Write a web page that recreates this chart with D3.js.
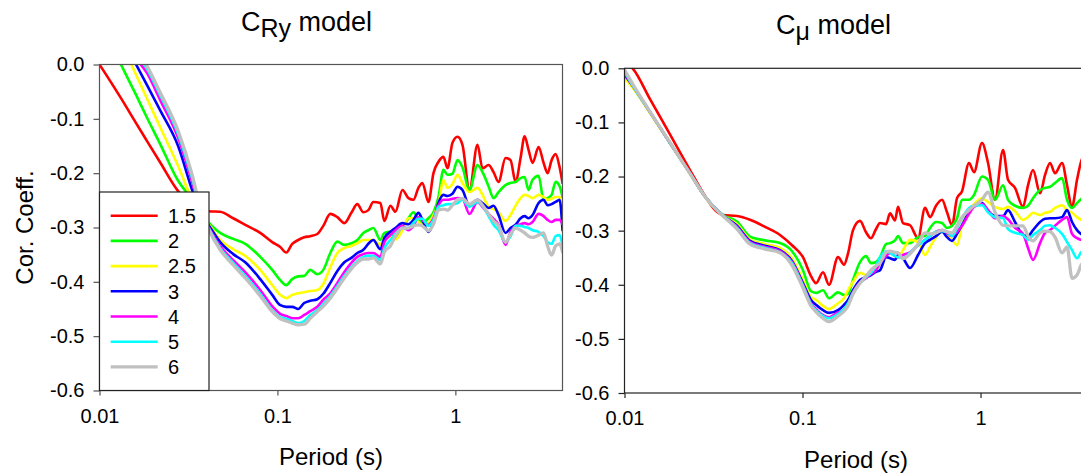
<!DOCTYPE html>
<html><head><meta charset="utf-8">
<script src="https://cdn.jsdelivr.net/npm/d3@7"></script>
<style>
body{margin:0;background:#fff}
svg{display:block}
text{font-family:"Liberation Sans",Arial,Helvetica,sans-serif;fill:#000}
</style>
</head><body>
<svg id="chart" width="1081" height="473"></svg>
<script>
const seriesNames = ["1.5","2","2.5","3","4","5","6"];
const seriesColors = ["#ff0000","#00ff00","#ffff00","#0000ff","#ff00ff","#00ffff","#c0c0c0"];
const yTickValues = [0,-0.1,-0.2,-0.3,-0.4,-0.5,-0.6];
const xTickValues = [0.01,0.1,1];

// ---- C_Ry model (left panel)
const periodsRy = [0.0100,0.0132,0.01605,0.0185,0.0219,0.02766,0.03315,0.03679,0.04132,0.04766,0.05641,0.0659,0.08003,0.09349,0.1037,0.1121,0.1211,0.1309,0.1415,0.153,0.1675,0.181,0.1982,0.2171,0.2377,0.2602,0.2812,0.304,0.3243,0.3459,0.3788,0.399,0.4313,0.4603,0.504,0.5447,0.581,0.6199,0.6528,0.7057,0.7531,0.8035,0.857,0.9027,0.9632,1.028,1.096,1.2,1.331,1.421,1.536,1.639,1.748,1.913,2.042,2.179,2.325,2.449,2.578,2.716,2.936,3.132,3.298,3.474,3.659,3.853,4.0];
const ry15 = [0,-0.062,-0.108,-0.141,-0.180,-0.233,-0.259,-0.266,-0.270,-0.271,-0.283,-0.295,-0.310,-0.327,-0.336,-0.346,-0.330,-0.323,-0.318,-0.316,-0.312,-0.297,-0.275,-0.281,-0.292,-0.273,-0.257,-0.272,-0.268,-0.253,-0.255,-0.288,-0.260,-0.271,-0.231,-0.246,-0.249,-0.227,-0.218,-0.253,-0.200,-0.179,-0.170,-0.191,-0.144,-0.133,-0.148,-0.231,-0.148,-0.191,-0.185,-0.198,-0.216,-0.172,-0.176,-0.216,-0.172,-0.132,-0.157,-0.181,-0.152,-0.181,-0.200,-0.176,-0.165,-0.189,-0.218];
const ry2 = [0.081,0,-0.056,-0.098,-0.146,-0.214,-0.249,-0.273,-0.292,-0.310,-0.321,-0.330,-0.354,-0.378,-0.397,-0.406,-0.395,-0.390,-0.389,-0.378,-0.386,-0.378,-0.347,-0.326,-0.332,-0.329,-0.323,-0.310,-0.305,-0.301,-0.323,-0.310,-0.308,-0.319,-0.301,-0.283,-0.272,-0.284,-0.292,-0.283,-0.272,-0.244,-0.194,-0.203,-0.201,-0.176,-0.189,-0.231,-0.185,-0.198,-0.224,-0.246,-0.235,-0.222,-0.218,-0.216,-0.209,-0.207,-0.231,-0.212,-0.205,-0.249,-0.246,-0.240,-0.216,-0.224,-0.244];
const ry25 = [0.130,0.041,-0.019,-0.063,-0.115,-0.187,-0.249,-0.277,-0.295,-0.323,-0.340,-0.352,-0.378,-0.406,-0.424,-0.430,-0.424,-0.421,-0.419,-0.417,-0.415,-0.404,-0.373,-0.347,-0.338,-0.334,-0.329,-0.323,-0.323,-0.323,-0.332,-0.319,-0.317,-0.322,-0.305,-0.283,-0.283,-0.290,-0.295,-0.292,-0.277,-0.257,-0.213,-0.227,-0.220,-0.203,-0.218,-0.235,-0.227,-0.240,-0.262,-0.266,-0.272,-0.288,-0.277,-0.260,-0.246,-0.240,-0.242,-0.246,-0.240,-0.244,-0.249,-0.247,-0.244,-0.244,-0.268];
const ry3 = [0.128,0.052,0,-0.038,-0.084,-0.150,-0.231,-0.272,-0.297,-0.327,-0.349,-0.364,-0.395,-0.424,-0.443,-0.446,-0.446,-0.450,-0.439,-0.435,-0.432,-0.422,-0.402,-0.380,-0.364,-0.356,-0.347,-0.341,-0.330,-0.323,-0.340,-0.319,-0.308,-0.301,-0.292,-0.294,-0.286,-0.273,-0.286,-0.308,-0.290,-0.255,-0.240,-0.242,-0.238,-0.225,-0.231,-0.260,-0.249,-0.255,-0.264,-0.260,-0.277,-0.310,-0.301,-0.295,-0.283,-0.279,-0.283,-0.277,-0.255,-0.249,-0.259,-0.257,-0.253,-0.249,-0.305];
const ry4 = [0.14,0.065,0.012,-0.016,-0.065,-0.135,-0.216,-0.268,-0.301,-0.334,-0.360,-0.382,-0.415,-0.445,-0.459,-0.463,-0.467,-0.467,-0.461,-0.454,-0.446,-0.433,-0.421,-0.402,-0.382,-0.365,-0.354,-0.349,-0.347,-0.347,-0.354,-0.327,-0.314,-0.305,-0.297,-0.305,-0.297,-0.281,-0.286,-0.295,-0.283,-0.259,-0.249,-0.249,-0.247,-0.246,-0.247,-0.275,-0.253,-0.262,-0.275,-0.284,-0.295,-0.332,-0.308,-0.297,-0.294,-0.292,-0.294,-0.290,-0.275,-0.279,-0.286,-0.290,-0.286,-0.286,-0.294];
const ry5 = [0.15,0.075,0.022,-0.008,-0.056,-0.128,-0.209,-0.264,-0.303,-0.338,-0.365,-0.389,-0.422,-0.452,-0.465,-0.468,-0.472,-0.476,-0.472,-0.461,-0.452,-0.441,-0.426,-0.408,-0.389,-0.373,-0.362,-0.354,-0.352,-0.352,-0.360,-0.338,-0.323,-0.312,-0.301,-0.301,-0.292,-0.284,-0.284,-0.297,-0.286,-0.262,-0.259,-0.257,-0.257,-0.255,-0.249,-0.262,-0.253,-0.260,-0.279,-0.295,-0.305,-0.327,-0.316,-0.297,-0.297,-0.299,-0.301,-0.305,-0.308,-0.316,-0.327,-0.330,-0.316,-0.314,-0.334];
const ry6 = [0.16,0.08,0.028,-0.003,-0.051,-0.122,-0.203,-0.262,-0.305,-0.341,-0.369,-0.393,-0.426,-0.455,-0.468,-0.472,-0.476,-0.479,-0.478,-0.467,-0.455,-0.445,-0.430,-0.412,-0.393,-0.376,-0.365,-0.358,-0.358,-0.356,-0.367,-0.345,-0.334,-0.316,-0.301,-0.301,-0.297,-0.295,-0.297,-0.306,-0.294,-0.268,-0.266,-0.268,-0.259,-0.249,-0.247,-0.257,-0.249,-0.259,-0.275,-0.288,-0.297,-0.327,-0.312,-0.301,-0.305,-0.310,-0.316,-0.318,-0.314,-0.310,-0.334,-0.351,-0.334,-0.330,-0.345];

// ---- C_mu model (right panel)
const periodsMu = [0.0100,0.01116,0.01391,0.01801,0.02333,0.02833,0.03224,0.03576,0.04285,0.05072,0.06156,0.07473,0.0873,0.1006,0.1116,0.1191,0.1304,0.1409,0.1583,0.1711,0.1802,0.1922,0.2104,0.2274,0.2425,0.2588,0.2726,0.2946,0.3102,0.3309,0.3439,0.3669,0.4018,0.4456,0.4878,0.5204,0.5623,0.6078,0.6484,0.6918,0.7379,0.7873,0.8618,0.9194,1.019,1.102,1.206,1.338,1.427,1.562,1.733,1.849,1.972,2.160,2.304,2.458,2.621,2.871,3.062,3.266,3.484,3.669,4.0];
const mu15 = [0.012,-0.001,-0.057,-0.122,-0.188,-0.236,-0.262,-0.271,-0.273,-0.280,-0.293,-0.308,-0.327,-0.349,-0.384,-0.397,-0.377,-0.400,-0.349,-0.363,-0.342,-0.299,-0.282,-0.303,-0.314,-0.297,-0.286,-0.288,-0.268,-0.281,-0.256,-0.286,-0.290,-0.314,-0.258,-0.275,-0.254,-0.243,-0.266,-0.290,-0.240,-0.227,-0.175,-0.192,-0.138,-0.175,-0.243,-0.151,-0.206,-0.221,-0.256,-0.216,-0.188,-0.231,-0.197,-0.175,-0.194,-0.175,-0.216,-0.256,-0.206,-0.173,-0.151];
const mu2 = [-0.013,-0.033,-0.081,-0.138,-0.194,-0.237,-0.258,-0.271,-0.283,-0.311,-0.318,-0.323,-0.338,-0.373,-0.412,-0.415,-0.410,-0.425,-0.414,-0.419,-0.417,-0.391,-0.358,-0.347,-0.360,-0.358,-0.349,-0.325,-0.323,-0.318,-0.310,-0.323,-0.323,-0.312,-0.310,-0.295,-0.284,-0.286,-0.295,-0.291,-0.277,-0.243,-0.243,-0.234,-0.200,-0.206,-0.243,-0.216,-0.243,-0.254,-0.258,-0.254,-0.240,-0.225,-0.221,-0.219,-0.212,-0.203,-0.243,-0.258,-0.249,-0.242,-0.234];
const mu25 = [-0.018,-0.037,-0.083,-0.139,-0.195,-0.238,-0.259,-0.272,-0.288,-0.316,-0.325,-0.332,-0.351,-0.391,-0.423,-0.428,-0.439,-0.445,-0.434,-0.425,-0.410,-0.395,-0.378,-0.382,-0.378,-0.369,-0.360,-0.345,-0.340,-0.347,-0.349,-0.336,-0.317,-0.321,-0.345,-0.330,-0.312,-0.302,-0.308,-0.317,-0.327,-0.290,-0.262,-0.251,-0.240,-0.247,-0.256,-0.260,-0.256,-0.264,-0.280,-0.275,-0.267,-0.271,-0.267,-0.265,-0.258,-0.253,-0.262,-0.267,-0.275,-0.280,-0.284];
const mu3 = [-0.012,-0.033,-0.081,-0.138,-0.194,-0.237,-0.258,-0.272,-0.291,-0.319,-0.328,-0.336,-0.356,-0.397,-0.428,-0.437,-0.447,-0.452,-0.447,-0.437,-0.428,-0.410,-0.391,-0.386,-0.382,-0.376,-0.373,-0.349,-0.351,-0.354,-0.345,-0.351,-0.369,-0.345,-0.323,-0.317,-0.310,-0.302,-0.312,-0.319,-0.306,-0.290,-0.266,-0.254,-0.249,-0.264,-0.273,-0.273,-0.262,-0.284,-0.308,-0.310,-0.299,-0.284,-0.278,-0.277,-0.277,-0.275,-0.262,-0.284,-0.299,-0.306,-0.312];
const mu4 = [-0.009,-0.033,-0.081,-0.138,-0.194,-0.237,-0.258,-0.272,-0.293,-0.321,-0.330,-0.338,-0.358,-0.400,-0.434,-0.445,-0.456,-0.460,-0.451,-0.447,-0.436,-0.414,-0.395,-0.388,-0.380,-0.373,-0.360,-0.347,-0.341,-0.347,-0.349,-0.345,-0.340,-0.327,-0.317,-0.310,-0.302,-0.299,-0.304,-0.310,-0.302,-0.291,-0.269,-0.256,-0.251,-0.262,-0.277,-0.273,-0.279,-0.295,-0.306,-0.332,-0.354,-0.323,-0.304,-0.299,-0.291,-0.280,-0.275,-0.306,-0.314,-0.317,-0.321];
const mu5 = [-0.006,-0.033,-0.081,-0.138,-0.194,-0.237,-0.258,-0.272,-0.295,-0.323,-0.332,-0.340,-0.360,-0.402,-0.436,-0.447,-0.458,-0.462,-0.454,-0.445,-0.434,-0.415,-0.397,-0.386,-0.378,-0.365,-0.349,-0.338,-0.341,-0.347,-0.349,-0.351,-0.341,-0.327,-0.317,-0.310,-0.302,-0.301,-0.302,-0.310,-0.295,-0.277,-0.258,-0.254,-0.253,-0.266,-0.275,-0.277,-0.297,-0.304,-0.308,-0.317,-0.308,-0.299,-0.291,-0.290,-0.295,-0.306,-0.321,-0.336,-0.351,-0.340,-0.332];
const mu6 = [-0.003,-0.030,-0.080,-0.137,-0.194,-0.237,-0.259,-0.273,-0.297,-0.325,-0.334,-0.341,-0.364,-0.406,-0.439,-0.450,-0.462,-0.468,-0.458,-0.449,-0.439,-0.417,-0.397,-0.384,-0.373,-0.365,-0.360,-0.340,-0.338,-0.340,-0.341,-0.352,-0.343,-0.325,-0.304,-0.306,-0.304,-0.299,-0.302,-0.304,-0.291,-0.275,-0.262,-0.254,-0.243,-0.229,-0.266,-0.290,-0.291,-0.291,-0.291,-0.310,-0.319,-0.304,-0.301,-0.302,-0.312,-0.341,-0.330,-0.388,-0.382,-0.364,-0.351];

const panels = [
  {id:"ry", periods:periodsRy, series:[ry15,ry2,ry25,ry3,ry4,ry5,ry6],
   x0:99.5, x1:562.5, y0:64.5, y1:390.5, frame:"#555",
   title:{main:"C", sub:"Ry", x:241, y:31}, xlabelY:465, ylabel:true, legend:true},
  {id:"mu", periods:periodsMu, series:[mu15,mu2,mu25,mu3,mu4,mu5,mu6],
   x0:624.5, x1:1087.7, y0:68.3, y1:393, frame:"#222",
   title:{main:"C", sub:"\u03bc", x:776, y:34}, xlabelY:468, ylabel:false, legend:false}
];

const svg = d3.select("#chart");
svg.append("rect").attr("width",1081).attr("height",473).attr("fill","#fff");

panels.forEach(p => {
  const x = d3.scaleLog().domain([0.01,4]).range([p.x0,p.x1]);
  const y = d3.scaleLinear().domain([-0.6,0]).range([p.y1,p.y0]);
  const g = svg.append("g");

  g.append("clipPath").attr("id","clip-"+p.id).append("rect")
    .attr("x",p.x0).attr("y",p.y0).attr("width",p.x1-p.x0).attr("height",p.y1-p.y0);

  const line = d3.line().x(d=>x(d[0])).y(d=>y(d[1])).curve(d3.curveMonotoneX);
  const lg = g.append("g").attr("clip-path","url(#clip-"+p.id+")");
  p.series.forEach((vals,i) => {
    const pts = p.periods.map((t,k)=>[t,vals[k]]);
    lg.append("path").attr("d",line(pts)).attr("fill","none")
      .attr("stroke",seriesColors[i]).attr("stroke-width", i===6?3.3:2.6)
      .attr("stroke-linejoin","round").attr("stroke-linecap","round");
  });

  // frame
  g.append("rect").attr("x",p.x0).attr("y",p.y0).attr("width",p.x1-p.x0).attr("height",p.y1-p.y0)
    .attr("fill","none").attr("stroke",p.frame).attr("stroke-width",1.2);

  // y axis
  const ya = d3.axisLeft(y).tickValues(yTickValues).tickFormat(d3.format(".1f")).tickSize(6).tickPadding(9);
  const yg = g.append("g").attr("transform",`translate(${p.x0},0)`).call(ya);
  yg.select(".domain").remove();
  yg.selectAll(".tick line").attr("stroke",p.frame).attr("stroke-width",1.2);
  yg.selectAll("text").attr("font-size",20).attr("font-family",null).attr("fill","#000")
    .text(d=> d===0 ? "0.0" : d3.format(".1f")(d).replace("\u2212","-"));

  // x axis
  const xa = d3.axisBottom(x).tickValues(xTickValues).tickFormat(d=>String(d)).tickSize(5).tickPadding(13);
  const xg = g.append("g").attr("transform",`translate(0,${p.y1})`).call(xa);
  xg.select(".domain").remove();
  xg.selectAll(".tick line").attr("stroke",p.frame).attr("stroke-width",1.2);
  xg.selectAll("text").attr("font-size",20).attr("font-family",null).attr("fill","#000");

  // x label
  g.append("text").attr("x",(p.x0+p.x1)/2).attr("y",p.xlabelY).attr("text-anchor","middle")
    .attr("font-size",24).text("Period (s)");

  // title
  const t = g.append("text").attr("x",p.title.x).attr("y",p.title.y).attr("font-size",27);
  t.append("tspan").text(p.title.main);
  t.append("tspan").attr("dy",6).attr("font-size",25).text(p.title.sub);
  t.append("tspan").attr("dy",-6).text(" model");

  if (p.ylabel) {
    g.append("text").attr("transform",`translate(33,${(p.y0+p.y1)/2}) rotate(-90)`)
      .attr("text-anchor","middle").attr("font-size",24).text("Cor. Coeff.");
  }

  if (p.legend) {
    const leg = g.append("g");
    leg.append("rect").attr("x",p.x0).attr("y",192).attr("width",209-p.x0).attr("height",p.y1-192)
      .attr("fill","#fff").attr("stroke","#222").attr("stroke-width",1.2);
    seriesNames.forEach((n,i)=>{
      const yy = 215.7 + i*25.2;
      leg.append("line").attr("x1",110.7).attr("x2",157.7).attr("y1",yy).attr("y2",yy)
        .attr("stroke",seriesColors[i]).attr("stroke-width", i===6?3.3:2.6);
      leg.append("text").attr("x",168).attr("y",yy+7.3).attr("font-size",20).text(n);
    });
  }
});
</script>
</body></html>
